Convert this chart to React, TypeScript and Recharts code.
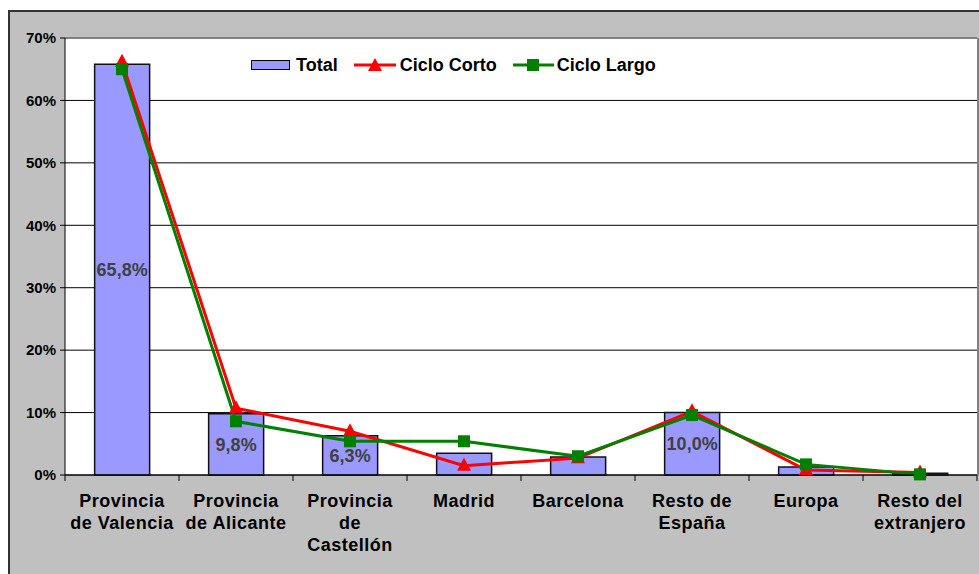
import {
  ComposedChart,
  Bar,
  Line,
  XAxis,
  YAxis,
  CartesianGrid,
  LabelList,
} from "recharts";

const categories = [
  "Provincia\nde Valencia",
  "Provincia\nde Alicante",
  "Provincia\nde\nCastellón",
  "Madrid",
  "Barcelona",
  "Resto de\nEspaña",
  "Europa",
  "Resto del\nextranjero",
];
const total = [65.8, 9.8, 6.3, 3.5, 2.9, 10.0, 1.3, 0.3];
const cicloCorto = [66.2, 10.7, 7.0, 1.5, 2.7, 10.2, 0.8, 0.4];
const cicloLargo = [65.0, 8.6, 5.4, 5.4, 3.0, 9.6, 1.7, 0.1];
const labelledBars = [true, true, true, false, false, true, false, false];
const yTicks = [0, 10, 20, 30, 40, 50, 60, 70];

const FONT = "'Liberation Sans', Arial, sans-serif";

const data = categories.map((name, i) => ({
  name,
  total: total[i],
  corto: cicloCorto[i],
  largo: cicloLargo[i],
  label: labelledBars[i] ? total[i].toFixed(1).replace(".", ",") + "%" : "",
}));

const Triangle = ({ cx, cy }: any) => {
  if (cx == null || cy == null) return null;
  return (
    <path
      d={`M${cx},${cy - 8} L${cx + 7},${cy + 5} L${cx - 7},${cy + 5} Z`}
      fill="#ff0000"
    />
  );
};

const Square = ({ cx, cy }: any) => {
  if (cx == null || cy == null) return null;
  return <rect x={cx - 6} y={cy - 6} width={12} height={12} fill="#008000" />;
};

const CategoryTick = ({ x, y, payload, index, visibleTicksCount }: any) => {
  const lines = String(payload.value).split("\n");
  const half = payload.offset || 0;
  return (
    <g>
      <line x1={x - half} y1={y} x2={x - half} y2={y + 6} stroke="#000" />
      {index === visibleTicksCount - 1 && (
        <line x1={x + half} y1={y} x2={x + half} y2={y + 6} stroke="#000" />
      )}
      <text
        x={x}
        y={y + 32}
        textAnchor="middle"
        fontFamily={FONT}
        fontWeight="bold"
        fontSize={18}
        letterSpacing={0.5}
        fill="#000"
      >
        {lines.map((l, i) => (
          <tspan key={i} x={x} dy={i === 0 ? 0 : 22}>
            {l}
          </tspan>
        ))}
      </text>
    </g>
  );
};

const legendText = {
  fontFamily: FONT,
  fontWeight: "bold" as const,
  fontSize: 18,
  color: "#000",
};

export default function App() {
  return (
    <div
      style={{
        position: "fixed",
        left: 8,
        top: 10,
        width: 969,
        height: 562,
        background: "#c0c0c0",
        borderLeft: "2px solid #333",
        borderTop: "2px solid #333",
        overflow: "hidden",
      }}
    >
      <ComposedChart
        width={969}
        height={562}
        data={data}
        margin={{ top: 26, right: 2, left: 0, bottom: 0 }}
        barCategoryGap="26%"
      >
        <CartesianGrid
          stroke="#000"
          vertical={false}
          fill="#fff"
          fillOpacity={1}
        />
        <CartesianGrid
          stroke="#808080"
          strokeWidth={2}
          horizontalCoordinatesGenerator={({ offset }: any) => [offset.top]}
          verticalCoordinatesGenerator={({ offset }: any) => [
            offset.left + offset.width + 1,
          ]}
        />
        <XAxis
          dataKey="name"
          interval={0}
          height={99}
          axisLine={{ stroke: "#000" }}
          tickLine={false}
          tickSize={0}
          tickMargin={0}
          tick={<CategoryTick />}
        />
        <YAxis
          width={55}
          domain={[0, 70]}
          ticks={yTicks}
          interval={0}
          tickFormatter={(v: number) => `${v}%`}
          axisLine={{ stroke: "#000" }}
          tickLine={{ stroke: "#000" }}
          tickSize={5}
          tickMargin={4}
          tick={{
            fontFamily: FONT,
            fontWeight: "bold",
            fontSize: 15,
            fill: "#000",
          }}
        />
        <Bar
          dataKey="total"
          name="Total"
          fill="#9999ff"
          stroke="#111"
          strokeWidth={1.5}
          isAnimationActive={false}
        >
          <LabelList
            dataKey="label"
            position="center"
            fill="#404040"
            fontFamily={FONT}
            fontWeight="bold"
            fontSize={18}
          />
        </Bar>
        <Line
          dataKey="corto"
          name="Ciclo Corto"
          stroke="#ff0000"
          strokeWidth={3}
          dot={<Triangle />}
          activeDot={false}
          isAnimationActive={false}
        />
        <Line
          dataKey="largo"
          name="Ciclo Largo"
          stroke="#008000"
          strokeWidth={3}
          dot={<Square />}
          activeDot={false}
          isAnimationActive={false}
        />
      </ComposedChart>
      <div
        style={{
          position: "absolute",
          left: 241,
          top: 41,
          height: 24,
          display: "flex",
          alignItems: "center",
          whiteSpace: "nowrap",
        }}
      >
        <span
          style={{
            display: "inline-block",
            width: 37,
            height: 8,
            background: "#9999ff",
            border: "1px solid #000",
          }}
        />
        <span style={{ ...legendText, marginLeft: 6 }}>Total</span>
        <svg width={42} height={16} style={{ marginLeft: 16 }}>
          <line x1={0} y1={8} x2={42} y2={8} stroke="#ff0000" strokeWidth={3} />
          <path d="M21,1 L28,14 L14,14 Z" fill="#ff0000" />
        </svg>
        <span style={{ ...legendText, marginLeft: 4 }}>Ciclo Corto</span>
        <svg width={41} height={16} style={{ marginLeft: 16 }}>
          <line x1={0} y1={8} x2={41} y2={8} stroke="#008000" strokeWidth={3} />
          <rect x={14} y={2} width={12} height={12} fill="#008000" />
        </svg>
        <span style={{ ...legendText, marginLeft: 3 }}>Ciclo Largo</span>
      </div>
    </div>
  );
}
